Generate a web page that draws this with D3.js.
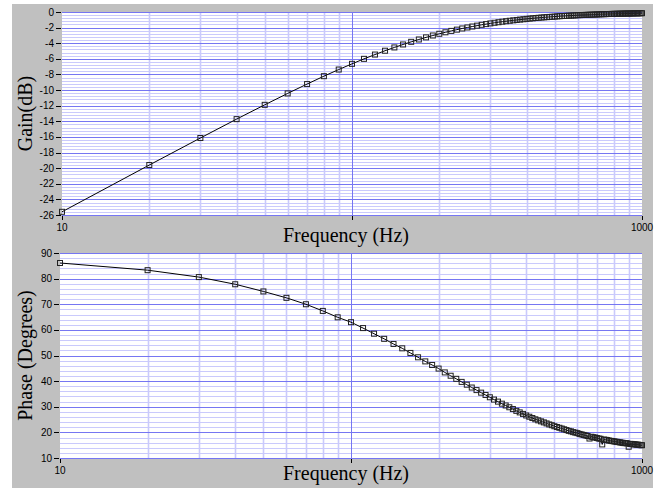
<!DOCTYPE html>
<html>
<head>
<meta charset="utf-8">
<script src="https://cdn.jsdelivr.net/npm/d3@7"></script>
<style>
  body { margin: 0; background: #fff; }
  svg { display: block; }
</style>
</head>
<body>
<script>
// frequency points (Hz)
const freq = [10, 20, 30, 40, 50, 60, 70, 80, 90, 100,
  110, 120, 130, 140, 150, 160, 170, 180, 190, 200,
  210, 220, 230, 240, 250, 260, 270, 280, 290, 300,
  310, 320, 330, 340, 350, 360, 370, 380, 390, 400,
  410, 420, 430, 440, 450, 460, 470, 480, 490, 500,
  510, 520, 530, 540, 550, 560, 570, 580, 590, 600,
  610, 620, 630, 640, 650, 660, 670, 680, 690, 700,
  710, 720, 730, 740, 750, 760, 770, 780, 790, 800,
  810, 820, 830, 840, 850, 860, 870, 880, 890, 900,
  910, 920, 930, 940, 950, 960, 970, 980, 990, 1000];

const gainDb = [-25.59, -19.60, -16.14, -13.72, -11.89, -10.43, -9.23, -8.22, -7.37, -6.64,
  -6.00, -5.45, -4.96, -4.54, -4.16, -3.82, -3.52, -3.25, -3.01, -2.79,
  -2.60, -2.42, -2.26, -2.11, -1.98, -1.86, -1.75, -1.64, -1.55, -1.46,
  -1.38, -1.31, -1.24, -1.18, -1.12, -1.07, -1.02, -0.97, -0.93, -0.88,
  -0.84, -0.81, -0.77, -0.74, -0.71, -0.68, -0.66, -0.63, -0.61, -0.59,
  -0.56, -0.54, -0.52, -0.51, -0.49, -0.47, -0.46, -0.44, -0.43, -0.41,
  -0.40, -0.39, -0.38, -0.37, -0.36, -0.35, -0.34, -0.33, -0.32, -0.31,
  -0.30, -0.29, -0.28, -0.28, -0.27, -0.26, -0.26, -0.25, -0.24, -0.24,
  -0.23, -0.23, -0.22, -0.22, -0.21, -0.21, -0.20, -0.20, -0.19, -0.19,
  -0.19, -0.18, -0.18, -0.17, -0.17, -0.17, -0.16, -0.16, -0.16, -0.15];

const phaseDeg = [86.1, 83.3, 80.6, 77.8, 75.0, 72.5, 70.0, 67.4, 64.9, 63.0,
  60.7, 58.5, 56.5, 54.5, 52.8, 51.0, 49.3, 47.7, 46.3, 44.9,
  43.4, 42.1, 40.9, 39.7, 38.6, 37.5, 36.5, 35.5, 34.6, 33.7,
  32.8, 32.0, 31.2, 30.5, 29.8, 29.1, 28.4, 27.8, 27.2, 26.6,
  26.1, 25.6, 25.1, 24.7, 24.3, 23.9, 23.5, 23.1, 22.8, 22.4,
  22.1, 21.8, 21.5, 21.2, 20.9, 20.6, 20.4, 20.1, 19.9, 19.7,
  19.4, 19.2, 19.0, 18.8, 18.6, 17.6, 18.3, 18.1, 18.0, 17.8,
  17.6, 17.5, 15.3, 17.2, 17.1, 17.0, 16.8, 16.7, 16.6, 16.5,
  16.4, 16.3, 16.2, 16.1, 16.0, 15.9, 15.8, 15.8, 15.7, 14.4,
  15.5, 15.5, 15.4, 15.3, 15.3, 15.2, 15.2, 15.1, 15.0, 15.0];

const gainTicks = [0, -2, -4, -6, -8, -10, -12, -14, -16, -18, -20, -22, -24, -26];
const phaseTicks = [90, 80, 70, 60, 50, 40, 30, 20, 10];
const freqTickLabels = [10, 1000];
const freqTickMarks = [10, 100, 1000];
const freqGridMinor = [20, 30, 40, 50, 60, 70, 80, 90, 200, 300, 400, 500, 600, 700, 800, 900];
const freqGridMajor = [100];

const width = 661;
const height = 491;
const majorColor = '#7676f2';
const minorColor = '#cacafc';

const svg = d3.select('body')
  .append('svg')
  .attr('width', width)
  .attr('height', height);

svg.append('rect')
  .attr('x', 12).attr('y', 4)
  .attr('width', 641).attr('height', 484)
  .attr('fill', '#c0c0c0');

function drawPanel(p) {
  const x = d3.scaleLog().domain([10, 1000]).range([p.left, p.right]);
  const y = d3.scaleLinear().domain(p.yDomain).range([p.bottom, p.top]);
  const g = svg.append('g');

  g.append('rect')
    .attr('x', p.left).attr('y', p.top)
    .attr('width', p.right - p.left).attr('height', p.bottom - p.top)
    .attr('fill', '#fff');

  // horizontal minor grid
  const minor = d3.range(p.yDomain[0], p.yDomain[1] + 1e-6, p.minorStep);
  g.selectAll('.hmin').data(minor).enter().append('line')
    .attr('x1', p.left).attr('x2', p.right)
    .attr('y1', d => Math.round(y(d)) + 0.5).attr('y2', d => Math.round(y(d)) + 0.5)
    .attr('stroke', minorColor).attr('stroke-width', 1);

  // vertical grid
  g.selectAll('.vmin').data(freqGridMinor).enter().append('line')
    .attr('x1', d => Math.round(x(d)) + 0.5).attr('x2', d => Math.round(x(d)) + 0.5)
    .attr('y1', p.top).attr('y2', p.bottom)
    .attr('stroke', minorColor).attr('stroke-width', 1.6);

  g.selectAll('.hmaj').data(p.ticks).enter().append('line')
    .attr('x1', p.left).attr('x2', p.right)
    .attr('y1', d => Math.round(y(d)) + 0.5).attr('y2', d => Math.round(y(d)) + 0.5)
    .attr('stroke', majorColor).attr('stroke-width', 1);

  g.selectAll('.vmaj').data(freqGridMajor).enter().append('line')
    .attr('x1', d => Math.round(x(d)) + 0.5).attr('x2', d => Math.round(x(d)) + 0.5)
    .attr('y1', p.top).attr('y2', p.bottom)
    .attr('stroke', majorColor).attr('stroke-width', 1);

  // y ticks + labels
  g.selectAll('.yt').data(p.ticks).enter().append('line')
    .attr('x1', p.left - 6).attr('x2', p.left - 1)
    .attr('y1', d => Math.round(y(d)) + 0.5).attr('y2', d => Math.round(y(d)) + 0.5)
    .attr('stroke', '#000');
  g.selectAll('.yl').data(p.ticks).enter().append('text')
    .attr('x', p.left - 8)
    .attr('y', d => y(d) + 3.5)
    .attr('text-anchor', 'end')
    .attr('font-family', 'Liberation Sans, Arial, sans-serif')
    .attr('font-size', 10)
    .attr('fill', '#000')
    .text(d => d);

  // x ticks + labels
  g.selectAll('.xt').data(freqTickMarks).enter().append('line')
    .attr('x1', d => Math.round(x(d)) + 0.5).attr('x2', d => Math.round(x(d)) + 0.5)
    .attr('y1', p.bottom + 1).attr('y2', p.bottom + 5)
    .attr('stroke', '#000');
  g.selectAll('.xl').data(freqTickLabels).enter().append('text')
    .attr('x', d => x(d))
    .attr('y', p.bottom + 16)
    .attr('text-anchor', 'middle')
    .attr('font-family', 'Liberation Sans, Arial, sans-serif')
    .attr('font-size', 10)
    .attr('fill', '#000')
    .text(d => d);

  // titles
  g.append('text')
    .attr('x', 346).attr('y', p.bottom + p.titleGap)
    .attr('text-anchor', 'middle')
    .attr('font-family', 'Liberation Serif, Times New Roman, serif')
    .attr('font-size', 20)
    .attr('fill', '#000')
    .text('Frequency (Hz)');
  g.append('text')
    .attr('transform', 'translate(32,' + ((p.top + p.bottom) / 2) + ') rotate(-90)')
    .attr('text-anchor', 'middle')
    .attr('font-family', 'Liberation Serif, Times New Roman, serif')
    .attr('font-size', 20)
    .attr('fill', '#000')
    .text(p.title);

  // curve
  const line = d3.line().x((d, i) => x(freq[i])).y(d => y(d));
  g.append('path')
    .datum(p.values)
    .attr('d', line)
    .attr('fill', 'none')
    .attr('stroke', '#000')
    .attr('stroke-width', 1);

  g.selectAll('.pt').data(p.values).enter().append('rect')
    .attr('x', (d, i) => x(freq[i]) - 2.5)
    .attr('y', d => y(d) - 2.5)
    .attr('width', 5).attr('height', 5)
    .attr('fill', 'none')
    .attr('stroke', '#222')
    .attr('stroke-width', 1);
}

drawPanel({
  left: 62, right: 642, top: 12, bottom: 215, titleGap: 27,
  yDomain: [-26, 0], minorStep: 0.4,
  ticks: gainTicks, values: gainDb, title: 'Gain(dB)'
});

drawPanel({
  left: 60, right: 642, top: 253, bottom: 458, titleGap: 22,
  yDomain: [10, 90], minorStep: 2,
  ticks: phaseTicks, values: phaseDeg, title: 'Phase (Degrees)'
});
</script>
</body>
</html>
